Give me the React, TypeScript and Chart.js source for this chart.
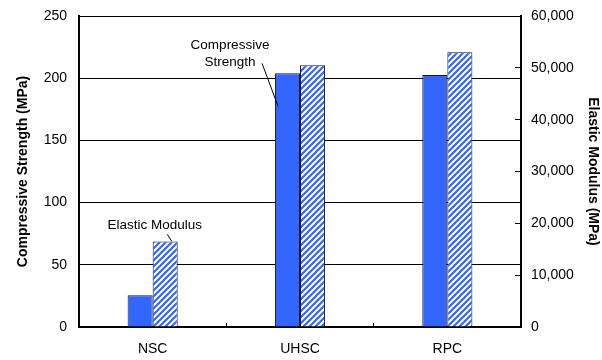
import React, { useEffect, useRef } from 'react';
import { Chart, registerables } from 'chart.js';

Chart.register(...registerables);

const categories = ['NSC', 'UHSC', 'RPC'];
const compressiveStrength = [25.5, 204, 202.5];
const elasticModulus = [16500, 50500, 53000];
const leftAxisMax = 250;
const leftAxisStep = 50;
const rightAxisMax = 60000;
const rightAxisStep = 10000;
const leftTitle = 'Compressive Strength (MPa)';
const rightTitle = 'Elastic Modulus (MPa)';

const notes = [
  { lines: ['Compressive', 'Strength'], category: 1, dx: -70, ys: [226.5, 213], from: [-38, 212], to: [-22, 177.5] },
  { lines: ['Elastic Modulus'], category: 0, dx: 2, ys: [82], from: [14.6, 74.5], to: [19, 69] },
];

const FONT = '"Liberation Sans", Arial, Helvetica, sans-serif';
const BLUE = '#3366FF';
const FS = 14;
const NOTE_FS = 13.5;

function makeHatch(): CanvasPattern | string {
  const c = document.createElement('canvas');
  c.width = 6;
  c.height = 6;
  const g = c.getContext('2d');
  if (!g) return BLUE;
  g.fillStyle = '#ffffff';
  g.fillRect(0, 0, 6, 6);
  g.strokeStyle = BLUE;
  g.lineWidth = 2.2;
  g.beginPath();
  g.moveTo(-1, 7); g.lineTo(7, -1);
  g.moveTo(-4, 4); g.lineTo(4, -4);
  g.moveTo(2, 10); g.lineTo(10, 2);
  g.stroke();
  return g.createPattern(c, 'repeat') || BLUE;
}

const notesPlugin = {
  id: 'notes',
  afterDatasetsDraw(chart: any) {
    const { ctx } = chart;
    const x = chart.scales.x;
    const y = chart.scales.y;
    ctx.save();
    ctx.font = `${NOTE_FS}px ${FONT}`;
    ctx.fillStyle = '#000';
    ctx.textAlign = 'center';
    ctx.textBaseline = 'middle';
    ctx.strokeStyle = '#000';
    ctx.lineWidth = 1;
    notes.forEach((n) => {
      const cx = x.getPixelForValue(n.category);
      n.lines.forEach((t, i) => ctx.fillText(t, cx + n.dx, y.getPixelForValue(n.ys[i])));
      ctx.beginPath();
      ctx.moveTo(cx + n.from[0], y.getPixelForValue(n.from[1]));
      ctx.lineTo(cx + n.to[0], y.getPixelForValue(n.to[1]));
      ctx.stroke();
    });
    ctx.restore();
  },
};

const noPad = (s: any) => {
  s.paddingTop = 0;
  s.paddingBottom = 0;
  s.paddingLeft = 0;
  s.paddingRight = 0;
};

export default function App() {
  const ref = useRef<HTMLCanvasElement>(null);
  useEffect(() => {
    if (!ref.current) return;
    const hatch = makeHatch();
    const tickFont = { family: FONT, size: FS };
    const titleFont = { family: FONT, size: FS, weight: 'bold' as const };
    const chart = new Chart(ref.current, {
      type: 'bar',
      data: {
        labels: categories,
        datasets: [
          {
            label: 'Compressive Strength',
            data: compressiveStrength,
            yAxisID: 'y',
            backgroundColor: BLUE,
            borderColor: '#1a1a2a',
            borderWidth: 1,
            categoryPercentage: 0.34,
            barPercentage: 1.0,
          },
          {
            label: 'Elastic Modulus',
            data: elasticModulus,
            yAxisID: 'y1',
            backgroundColor: hatch as any,
            borderColor: '#1a1a2a',
            borderWidth: 1,
            categoryPercentage: 0.34,
            barPercentage: 1.0,
          },
        ],
      },
      options: {
        animation: false,
        responsive: true,
        maintainAspectRatio: false,
        layout: { padding: { top: 16, left: 0, right: 0, bottom: 0 } },
        plugins: { legend: { display: false }, tooltip: { enabled: false } },
        scales: {
          x: {
            grid: { offset: true, drawOnChartArea: false, drawTicks: true, tickLength: -4, color: '#000', lineWidth: 1 },
            border: { color: '#000', width: 2 },
            ticks: { padding: 17.6, font: tickFont, color: '#000' },
            afterFit: (s: any) => { s.height = 33; noPad(s); },
          },
          y: {
            position: 'left',
            min: 0,
            max: leftAxisMax,
            ticks: { stepSize: leftAxisStep, padding: 12, font: tickFont, color: '#000' },
            grid: { color: '#000', lineWidth: 1, drawTicks: false },
            border: { color: '#000', width: 2 },
            title: { display: true, text: leftTitle, font: titleFont, color: '#000', padding: { top: 14.6, bottom: 0 } },
            afterFit: (s: any) => { s.width = 79; noPad(s); },
          },
          y1: {
            position: 'right',
            min: 0,
            max: rightAxisMax,
            ticks: {
              stepSize: rightAxisStep,
              padding: 16,
              font: tickFont,
              color: '#000',
              callback: (v: any) => Number(v).toLocaleString('en-US'),
            },
            grid: { drawOnChartArea: false, drawTicks: true, tickLength: -6, color: '#000', lineWidth: 1 },
            border: { color: '#000', width: 2 },
            title: { display: true, text: rightTitle, font: titleFont, color: '#000', padding: { top: 1, bottom: 0 } },
            afterFit: (s: any) => { s.width = 81; noPad(s); },
          },
        },
      },
      plugins: [notesPlugin],
    });
    return () => chart.destroy();
  }, []);
  return (
    <div style={{ position: 'fixed', left: 0, top: 0, width: 602, height: 360, background: '#fff' }}>
      <canvas ref={ref} />
    </div>
  );
}
